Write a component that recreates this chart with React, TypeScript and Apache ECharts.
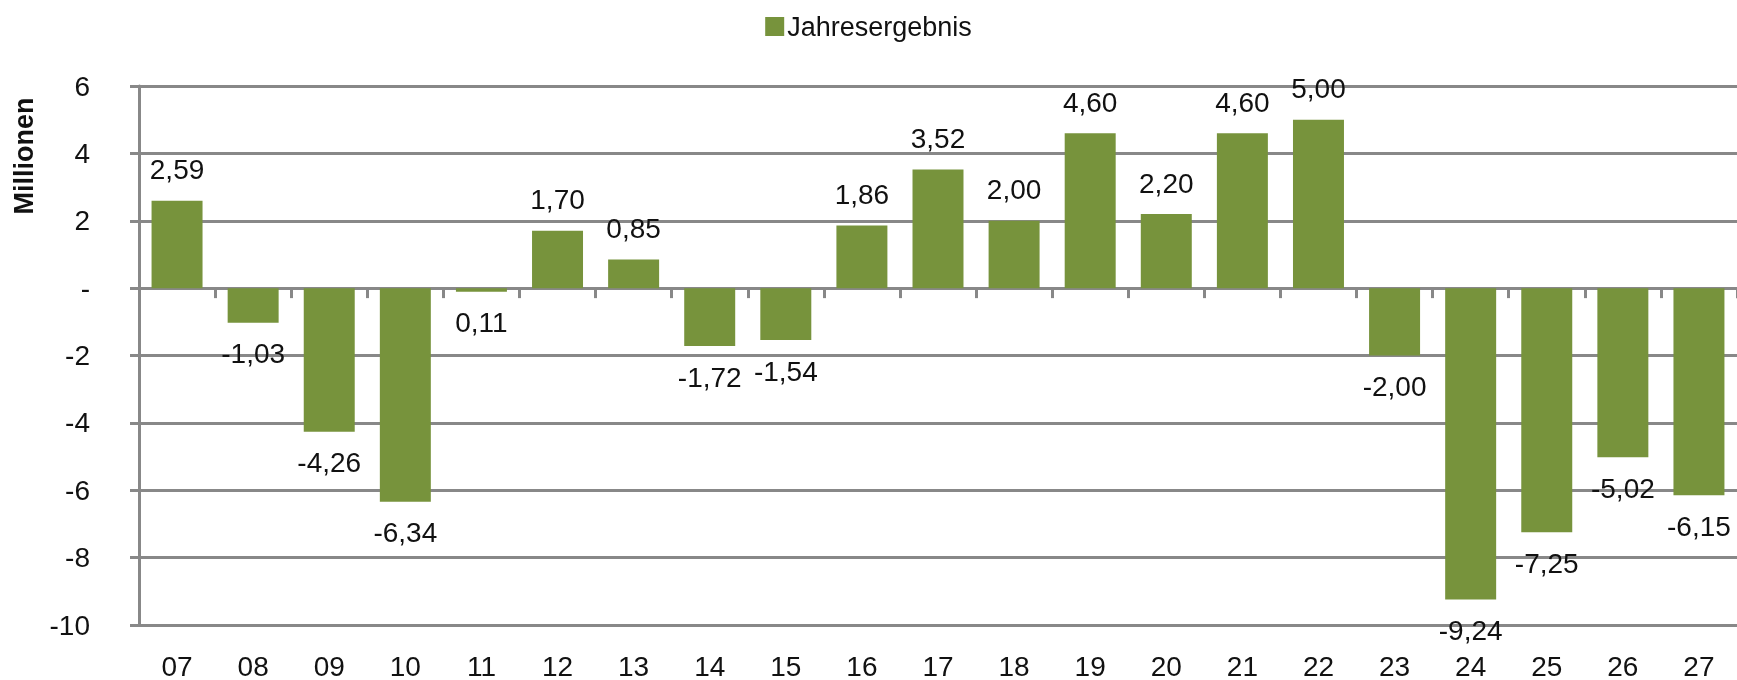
import React, { useEffect, useRef } from "react";
import * as echarts from "echarts";

const categories = ["07", "08", "09", "10", "11", "12", "13", "14", "15", "16", "17", "18", "19", "20", "21", "22", "23", "24", "25", "26", "27"];
const values = [2.59, -1.03, -4.26, -6.34, -0.11, 1.7, 0.85, -1.72, -1.54, 1.86, 3.52, 2.0, 4.6, 2.2, 4.6, 5.0, -2.0, -9.24, -7.25, -5.02, -6.15];
const valueLabels = ["2,59", "-1,03", "-4,26", "-6,34", "0,11", "1,70", "0,85", "-1,72", "-1,54", "1,86", "3,52", "2,00", "4,60", "2,20", "4,60", "5,00", "-2,00", "-9,24", "-7,25", "-5,02", "-6,15"];
const seriesName = "Jahresergebnis";
const axisTitle = "Millionen";

const FONT = "Liberation Sans, Arial, sans-serif";
const GRAY = "#888888";
const GREEN = "#77933C";

export default function App() {
  const ref = useRef<HTMLDivElement>(null);
  useEffect(() => {
    if (!ref.current) return;
    const chart = echarts.init(ref.current, undefined, { renderer: "svg" });
    chart.setOption({
      animation: false,
      textStyle: { fontFamily: FONT },
      legend: {
        top: 8,
        left: "center",
        itemWidth: 19,
        itemHeight: 19,
        itemGap: 10,
        icon: "rect",
        textStyle: { fontSize: 27, color: "#111", fontFamily: FONT, padding: [0, 0, 0, -2] },
        data: [seriesName],
      },
      grid: { left: 139, right: 0, top: 86, bottom: 53, containLabel: false },
      xAxis: [
        {
          type: "category",
          data: categories,
          position: "bottom",
          axisLine: { show: true, onZero: true, lineStyle: { color: GRAY, width: 3 } },
          axisTick: { show: true, length: 10, alignWithLabel: false, lineStyle: { color: GRAY, width: 3 } },
          axisLabel: { show: false },
          splitLine: { show: false },
        },
        {
          type: "category",
          data: categories,
          position: "bottom",
          axisLine: { show: false, onZero: false },
          axisTick: { show: false },
          axisLabel: { show: true, margin: 30, fontSize: 28, lineHeight: 22, color: "#111", fontFamily: FONT },
          splitLine: { show: false },
        },
      ],
      yAxis: {
        type: "value",
        min: -10,
        max: 6,
        interval: 2,
        axisLine: { show: true, lineStyle: { color: GRAY, width: 3 } },
        axisTick: { show: true, length: 9, lineStyle: { color: GRAY, width: 3 } },
        splitLine: { show: true, lineStyle: { color: GRAY, width: 3 } },
        axisLabel: {
          margin: 49,
          fontSize: 28,
          color: "#111",
          fontFamily: FONT,
          formatter: (v: number) => (v === 0 ? "-" : String(v)),
        },
      },
      graphic: [
        {
          type: "text",
          x: 24,
          y: 156,
          rotation: Math.PI / 2,
          style: {
            text: axisTitle,
            fontSize: 27,
            fontWeight: "bold",
            fontFamily: FONT,
            fill: "#111",
            textAlign: "center",
            textVerticalAlign: "middle",
          },
        },
      ],
      series: [
        {
          name: seriesName,
          type: "bar",
          xAxisIndex: 0,
          barCategoryGap: "33%",
          itemStyle: { color: GREEN },
          data: values.map((v, i) => ({
            value: v,
            label: {
              show: true,
              position: v >= 0 ? "top" : "bottom",
              distance: 17,
              formatter: valueLabels[i],
            },
          })),
          label: { fontSize: 28, color: "#111", fontFamily: FONT },
        },
      ],
    });
    return () => chart.dispose();
  }, []);
  return <div ref={ref} style={{ position: "fixed", left: 0, top: 0, width: 1737, height: 680 }} />;
}
